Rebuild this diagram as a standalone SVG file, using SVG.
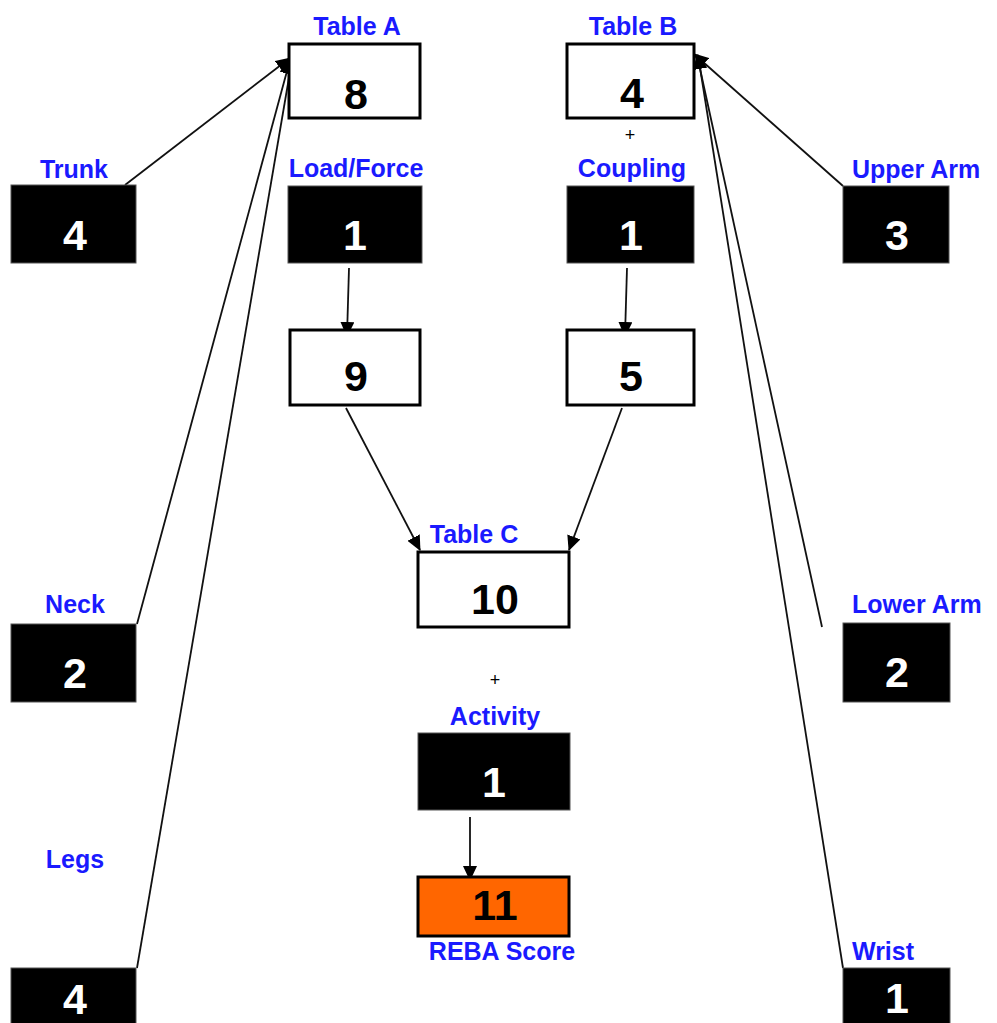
<svg xmlns="http://www.w3.org/2000/svg" width="997" height="1023" viewBox="0 0 997 1023">
<defs>
<style>
.lbl{font-family:"Liberation Sans",Arial,sans-serif;font-weight:bold;font-size:25px;fill:#1a1aff;text-anchor:middle}
.lbl.r{text-anchor:start}
.num{font-family:"Liberation Sans",Arial,sans-serif;font-weight:bold;font-size:43px;text-anchor:middle}
.w{fill:#ffffff}
.k{fill:#000000}
.plus{font-family:"Liberation Sans",Arial,sans-serif;font-size:18px;fill:#000;text-anchor:middle}
.wbox{fill:#ffffff;stroke:#000;stroke-width:3}
.bbox{fill:#000000;stroke:#555;stroke-width:1}
.obox{fill:#ff6600;stroke:#000;stroke-width:3}
.conn line{stroke:#111;stroke-width:1.8;fill:none}
</style>
<marker id="ah" markerUnits="userSpaceOnUse" markerWidth="16" markerHeight="14" refX="14" refY="7" orient="auto">
<path d="M0,0 L15,7 L0,14 Z" fill="#000"/>
</marker>
</defs>
<rect width="997" height="1023" fill="#ffffff"/>

<g id="connectors" class="conn">
<line x1="125" y1="185" x2="290" y2="58" marker-end="url(#ah)"/>
<line x1="137" y1="624" x2="290" y2="60" marker-end="url(#ah)"/>
<line x1="137" y1="968" x2="292" y2="60" marker-end="url(#ah)"/>
<line x1="843" y1="186" x2="694" y2="54" marker-end="url(#ah)"/>
<line x1="822" y1="627" x2="697" y2="55" marker-end="url(#ah)"/>
<line x1="843" y1="968" x2="698" y2="55" marker-end="url(#ah)"/>
<line x1="349" y1="268" x2="347" y2="336" marker-end="url(#ah)"/>
<line x1="627" y1="268" x2="625" y2="336" marker-end="url(#ah)"/>
<line x1="346" y1="408" x2="420" y2="550" marker-end="url(#ah)"/>
<line x1="622" y1="408" x2="569" y2="550" marker-end="url(#ah)"/>
<line x1="470" y1="817" x2="470" y2="880" marker-end="url(#ah)"/>
</g>

<g id="tableA">
<text class="lbl" x="357" y="35">Table A</text>
<rect class="wbox" x="289" y="44" width="131" height="74"/>
<text class="num k" x="356" y="109">8</text>
</g>
<g id="tableB">
<text class="lbl" x="633" y="35">Table B</text>
<rect class="wbox" x="567" y="44" width="127" height="74"/>
<text class="num k" x="632" y="108">4</text>
<text class="plus" x="630" y="141">+</text>
</g>
<g id="trunk">
<text class="lbl" x="74" y="178">Trunk</text>
<rect class="bbox" x="11" y="185" width="125" height="78"/>
<text class="num w" x="75" y="250">4</text>
</g>
<g id="loadForce">
<text class="lbl" x="356" y="177">Load/Force</text>
<rect class="bbox" x="288" y="186" width="134" height="77"/>
<text class="num w" x="355" y="250">1</text>
</g>
<g id="coupling">
<text class="lbl" x="632" y="177">Coupling</text>
<rect class="bbox" x="567" y="186" width="127" height="77"/>
<text class="num w" x="631" y="250">1</text>
</g>
<g id="upperArm">
<text class="lbl r" x="852" y="178">Upper Arm</text>
<rect class="bbox" x="843" y="186" width="106" height="77"/>
<text class="num w" x="897" y="250">3</text>
</g>
<g id="scoreA">
<rect class="wbox" x="290" y="330" width="130" height="75"/>
<text class="num k" x="356" y="391">9</text>
</g>
<g id="scoreB">
<rect class="wbox" x="567" y="330" width="127" height="75"/>
<text class="num k" x="631" y="391">5</text>
</g>
<g id="tableC">
<text class="lbl" x="474" y="543">Table C</text>
<rect class="wbox" x="418" y="552" width="151" height="75"/>
<text class="num k" x="495" y="614">10</text>
<text class="plus" x="495" y="686">+</text>
</g>
<g id="activity">
<text class="lbl" x="495" y="725">Activity</text>
<rect class="bbox" x="418" y="733" width="152" height="77"/>
<text class="num w" x="494" y="797">1</text>
</g>
<g id="reba">
<rect class="obox" x="418" y="877" width="151" height="59"/>
<text class="num k" x="495" y="920">11</text>
<text class="lbl" x="502" y="960">REBA Score</text>
</g>
<g id="neck">
<text class="lbl" x="75" y="613">Neck</text>
<rect class="bbox" x="11" y="624" width="125" height="78"/>
<text class="num w" x="75" y="688">2</text>
</g>
<g id="lowerArm">
<text class="lbl r" x="852" y="613">Lower Arm</text>
<rect class="bbox" x="843" y="623" width="107" height="79"/>
<text class="num w" x="897" y="687">2</text>
</g>
<g id="legs">
<text class="lbl" x="75" y="868">Legs</text>
<rect class="bbox" x="11" y="968" width="125" height="70"/>
<text class="num w" x="75" y="1014">4</text>
</g>
<g id="wrist">
<text class="lbl r" x="852" y="960">Wrist</text>
<rect class="bbox" x="843" y="968" width="107" height="70"/>
<text class="num w" x="897" y="1013">1</text>
</g>
</svg>
